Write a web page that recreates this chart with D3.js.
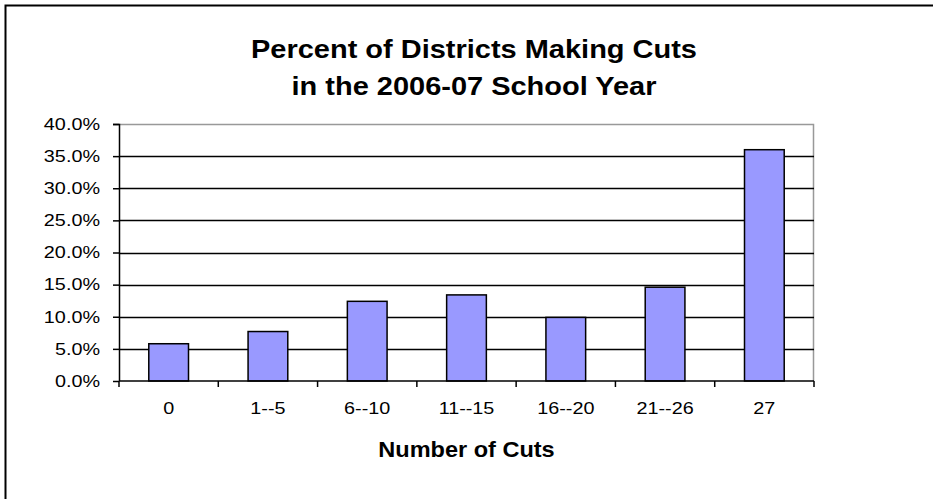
<!DOCTYPE html>
<html>
<head>
<meta charset="utf-8">
<script src="https://cdn.jsdelivr.net/npm/d3@7"></script>
<style>
  body { margin: 0; background: #fff; }
  text { font-family: "Liberation Sans", Arial, sans-serif; fill: #000; }
</style>
</head>
<body>
<div id="chart"></div>
<script>
const categories = ["0", "1--5", "6--10", "11--15", "16--20", "21--26", "27"];
const percents = [5.8, 7.7, 12.4, 13.4, 9.9, 14.6, 36.0];
const yTicks = [0, 5, 10, 15, 20, 25, 30, 35, 40];
const titleLines = ["Percent of Districts Making Cuts", "in the 2006-07 School Year"];

const width = 933;
const height = 499;
const margin = { top: 124, right: 119, bottom: 118, left: 119 };
const plotW = width - margin.left - margin.right;
const plotH = height - margin.top - margin.bottom;

// the original text is a bit wider than Liberation Sans at the same height
function stretch(sel, sx) {
  sel.each(function () {
    const t = d3.select(this);
    const tx = +t.attr("x") || 0;
    const ty = +t.attr("y") || 0;
    t.attr("x", 0).attr("y", 0)
      .attr("transform", `translate(${tx},${ty}) scale(${sx},1)`);
  });
}

const svg = d3.select("#chart")
  .append("svg")
  .attr("width", width)
  .attr("height", height);

// outer chart frame (runs off right and bottom)
svg.append("rect")
  .attr("x", 5.5).attr("y", 5.5)
  .attr("width", width + 10).attr("height", height + 10)
  .attr("fill", "none")
  .attr("stroke", "#000")
  .attr("stroke-width", 2);

svg.selectAll(".title")
  .data(titleLines)
  .enter()
  .append("text")
  .attr("x", 474)
  .attr("y", (d, i) => 58 + i * 37)
  .attr("font-size", 26)
  .attr("font-weight", "bold")
  .attr("text-anchor", "middle")
  .text(d => d)
  .call(stretch, 1.115);

const g = svg.append("g")
  .attr("transform", `translate(${margin.left},${margin.top})`);

const x = d3.scaleBand()
  .domain(categories)
  .range([0, plotW])
  .paddingInner(0.6)
  .paddingOuter(0.3);

const y = d3.scaleLinear()
  .domain([0, 40])
  .range([plotH, 0]);

// plot area border (gray)
g.append("path")
  .attr("d", `M0,0.5H${plotW - 0.5}V${plotH}`)
  .attr("fill", "none")
  .attr("stroke", "#999")
  .attr("stroke-width", 1.5);

// gridlines
g.selectAll(".grid")
  .data(yTicks.filter(d => d > 0 && d < 40))
  .enter()
  .append("line")
  .attr("x1", 0)
  .attr("x2", plotW)
  .attr("y1", d => Math.round(y(d)) + 0.5)
  .attr("y2", d => Math.round(y(d)) + 0.5)
  .style("stroke", "#000")
  .style("stroke-width", 1.5);

// bars
g.selectAll(".bar")
  .data(percents)
  .enter()
  .append("rect")
  .attr("x", (d, i) => x(categories[i]))
  .attr("y", d => y(d))
  .attr("width", x.bandwidth())
  .attr("height", d => plotH - y(d))
  .style("fill", "#9999FF")
  .style("stroke", "#000")
  .style("stroke-width", 1.5);

// y axis
const yAxis = g.append("g")
  .call(d3.axisLeft(y)
    .tickValues(yTicks)
    .tickSize(6)
    .tickFormat(d => d.toFixed(1) + "%"));
yAxis.select(".domain").attr("d", `M-6,0.5H0.5V${plotH}`).attr("stroke-width", 1.5);
yAxis.selectAll(".tick line").attr("stroke-width", 1.5);
yAxis.selectAll(".tick text")
  .attr("font-size", 16.5)
  .attr("font-family", "Liberation Sans, Arial, sans-serif")
  .attr("fill", "#000")
  .attr("x", -19)
  .call(stretch, 1.2);

// x axis with ticks at band boundaries
const xAxis = g.append("g")
  .attr("transform", `translate(0,${plotH})`);
xAxis.append("line")
  .attr("x1", 0).attr("x2", plotW)
  .attr("stroke", "#000").attr("stroke-width", 1.5);
const step = x.step();
xAxis.selectAll(".xtick")
  .data(d3.range(categories.length + 1))
  .enter()
  .append("line")
  .attr("x1", d => d * step)
  .attr("x2", d => d * step)
  .attr("y1", 0)
  .attr("y2", 6)
  .attr("stroke", "#000")
  .attr("stroke-width", 1.5);
xAxis.selectAll(".xlabel")
  .data(categories)
  .enter()
  .append("text")
  .attr("x", d => x(d) + x.bandwidth() / 2)
  .attr("y", 33)
  .attr("text-anchor", "middle")
  .attr("font-size", 16.5)
  .text(d => d)
  .call(stretch, 1.2);

svg.append("text")
  .attr("x", margin.left + plotW / 2)
  .attr("y", 457)
  .attr("text-anchor", "middle")
  .attr("font-size", 22)
  .attr("font-weight", "bold")
  .text("Number of Cuts")
  .call(stretch, 1.07);
</script>
</body>
</html>
